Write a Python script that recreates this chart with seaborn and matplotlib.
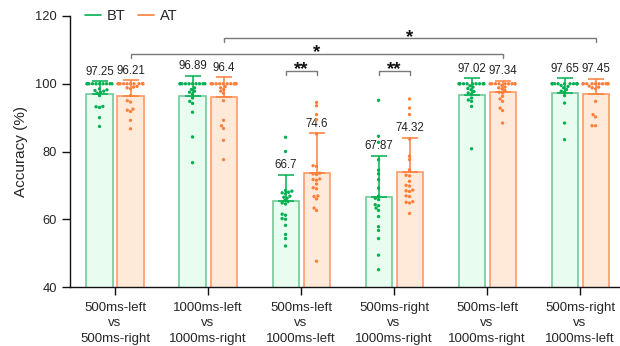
import numpy as np
import pandas as pd
import seaborn as sns
import matplotlib.pyplot as plt
from matplotlib.lines import Line2D

# Comparison groups (x axis)
groups = ['500ms-left\nvs\n500ms-right', '1000ms-left\nvs\n1000ms-right',
          '500ms-left\nvs\n1000ms-left', '500ms-right\nvs\n1000ms-right',
          '500ms-left\nvs\n1000ms-right', '500ms-right\nvs\n1000ms-left']
phases = ['BT', 'AT']

# Bar heights and SD
bt_mean = [96.85, 96.3, 65.4, 66.6, 96.7, 97.2]
at_mean = [96.4, 96.0, 73.8, 73.9, 97.5, 97.0]
bt_sd = [3.95, 6.0, 7.8, 12.1, 5.0, 4.5]
at_sd = [4.7, 5.9, 11.6, 10.2, 3.4, 4.5]

# Value labels printed above the bars
bt_labels = ['97.25', '96.89', '66.7', '67.87', '97.02', '97.65']
at_labels = ['96.21', '96.4', '74.6', '74.32', '97.34', '97.45']

# Individual subject points
bt_points = [
    [100] * 10 + [98.5, 98.2, 98, 97.8, 97.5, 97.2, 96.5, 93.3, 93.2, 93, 90, 87.4],
    [100] * 10 + [98.8, 98.3, 97.8, 97.5, 97, 95.8, 94.8, 94.2, 91.6, 84.3, 76.7],
    [84.2, 80.0, 68.5, 68.3, 68.0, 67.8, 67.5, 66.8, 66.5, 66.2, 65.5, 65.2, 64.8,
     64.5, 61.5, 61.2, 60.2, 60.0, 58.2, 55.5, 54.3, 52.1],
    [95.1, 84.5, 82.7, 77.6, 74.5, 73.4, 71.7, 69.2, 66.8, 66.2, 65.8, 64.3, 64.0,
     63.3, 62.6, 60.8, 57.8, 56.7, 54.3, 49.4, 45.1],
    [100] * 10 + [99.4, 99, 98.6, 98.2, 97.7, 97.3, 97, 95.8, 95.2, 94.8, 93.3, 80.8],
    [100] * 10 + [99.5, 99.2, 98.8, 98.3, 97.8, 97.5, 96.5, 94.3, 88.4, 83.5],
]
at_points = [
    [100] * 10 + [99.2, 99, 98.8, 98.5, 96.5, 95, 94.6, 92.5, 92.2, 91.8, 89.2, 86.7],
    [100] * 10 + [99.2, 98.8, 98.3, 97.8, 97.2, 95, 89.2, 87.6, 86.8, 83.3, 77.6],
    [94.5, 93.5, 90.9, 89.4, 85.2, 75.8, 75.6, 73.6, 73.4, 73.2, 71.9, 71.7, 71.5,
     70.4, 69.3, 69.0, 66.9, 66.7, 66.0, 63.3, 62.6, 47.6],
    [95.5, 92.8, 90.9, 83.7, 78.6, 77.6, 74.6, 73.0, 72.8, 71.2, 70.0, 69.8, 68.6,
     68.4, 68.2, 66.9, 66.7, 65.2, 65.0, 64.8, 61.7],
    [100] * 9 + [99.5, 99, 98.8, 98.5, 98, 97.5, 97.3, 96.3, 95.5, 94.8, 92.8, 92.1, 88.4],
    [100] * 10 + [99.3, 99, 98.8, 98.5, 94.8, 90.9, 90.2, 87.6, 87.6],
]

# Significance brackets: (group a, phase a, group b, phase b, level, text)
brackets = [
    (2, 'BT', 2, 'AT', 103.9, '**'),
    (3, 'BT', 3, 'AT', 103.9, '**'),
    (0, 'AT', 4, 'AT', 108.8, '*'),
    (1, 'AT', 5, 'AT', 113.4, '*'),
]

point_colors = {'BT': '#00b050', 'AT': '#ff7f3a'}
fill_colors = {'BT': '#e8fcef', 'AT': '#ffe9d8'}
edge_colors = {'BT': '#72c99a', 'AT': '#ff9a66'}

# slot layout: BT, AT, gap for every group
def slot(g, phase):
    return 3 * g + phases.index(phase)

bar_df = pd.DataFrame({
    'pos': [slot(g, p) for p in phases for g in range(len(groups))],
    'Phase': [p for p in phases for g in range(len(groups))],
    'mean': bt_mean + at_mean,
})
pts_df = pd.DataFrame(
    [(slot(g, 'BT'), 'BT', v) for g, vals in enumerate(bt_points) for v in vals] +
    [(slot(g, 'AT'), 'AT', v) for g, vals in enumerate(at_points) for v in vals],
    columns=['pos', 'Phase', 'value'])

sns.set_style('ticks')
plt.rcParams['font.family'] = ['Liberation Sans', 'DejaVu Sans']

fig = plt.figure(figsize=(6.2, 3.46), dpi=100)
ax = fig.add_axes([70 / 620, 1 - 287 / 346, 555 / 620, 271 / 346])

sns.barplot(data=bar_df, x='pos', y='mean', hue='Phase', hue_order=phases,
            palette=fill_colors, saturation=1, native_scale=True, dodge=False,
            width=0.84, linewidth=1.2, errorbar=None, legend=False, ax=ax)
for cont, p in zip(ax.containers, phases):
    for bar in cont:
        bar.set_edgecolor(edge_colors[p])

sds = {'BT': bt_sd, 'AT': at_sd}
labels = {'BT': bt_labels, 'AT': at_labels}
for cont, p in zip(ax.containers, phases):
    xs = [b.get_x() + b.get_width() / 2 for b in cont]
    tops = [b.get_height() for b in cont]
    ax.errorbar(xs, tops, yerr=[np.zeros(len(xs)), sds[p]], fmt='none',
                ecolor=point_colors[p], elinewidth=1.1, capsize=5.5,
                capthick=1.1, zorder=3)
    for x, t, s, lab in zip(xs, tops, sds[p], labels[p]):
        ax.annotate(lab, (x, t + s), xytext=(0, 2.5), textcoords='offset points',
                    ha='center', va='bottom', fontsize=8.3, color='#222222')

sns.swarmplot(data=pts_df, x='pos', y='value', hue='Phase', hue_order=phases,
              palette=point_colors, native_scale=True, size=2.4, legend=False,
              warn_thresh=1, ax=ax, zorder=4)

for ga, pa, gb, pb, lev, txt in brackets:
    xa, xb = slot(ga, pa), slot(gb, pb)
    ax.plot([xa, xa, xb, xb], [lev - 1.2, lev, lev, lev - 1.2],
            color='#7a7a7a', lw=1.0, clip_on=False)
    ax.annotate(txt, ((xa + xb) / 2, lev), xytext=(0, -2.5),
                textcoords='offset points', ha='center', va='baseline',
                fontsize=13.5, fontweight='bold', color='#111111')

ax.set_xlim(-0.952, 16.95)
ax.set_ylim(40, 120)
ax.set_yticks([40, 60, 80, 100, 120])
ax.set_xticks([3 * g + 0.5 for g in range(len(groups))])
ax.set_xticklabels(groups, fontsize=9.5, linespacing=1.35)
ax.tick_params(axis='y', labelsize=9.3, length=6, width=1, color='#111111')
ax.tick_params(axis='x', length=6, width=1, color='#111111', pad=5)
ax.set_xlabel('')
ax.set_ylabel('Accuracy (%)', fontsize=11, labelpad=5)
sns.despine(ax=ax)
for side in ['left', 'bottom']:
    ax.spines[side].set_linewidth(1.0)
    ax.spines[side].set_color('#111111')

handles = [Line2D([], [], color=point_colors[p], lw=1.2) for p in phases]
ax.legend(handles, phases, loc='center left', bbox_to_anchor=(0.0, 1.0),
          ncol=2, frameon=False, fontsize=10.5, handlelength=1.1,
          handletextpad=0.4, columnspacing=0.9, borderaxespad=0.6)

fig.savefig('out.png', dpi=100)
